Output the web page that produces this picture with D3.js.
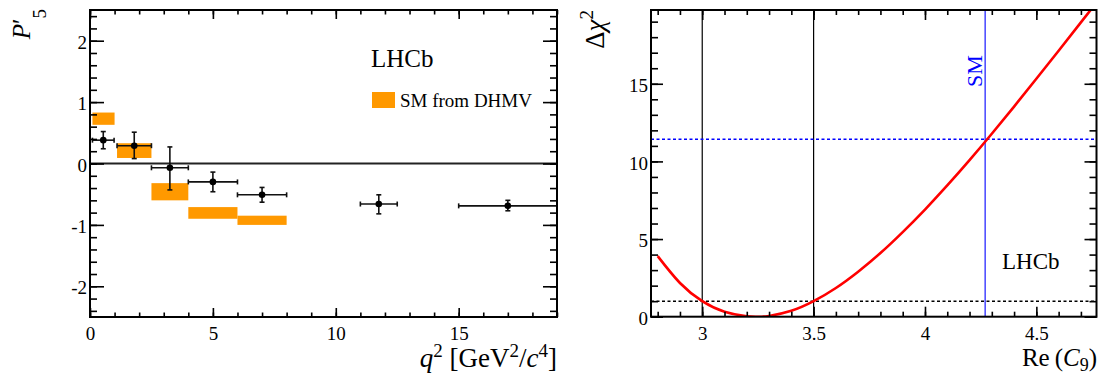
<!DOCTYPE html>
<html>
<head>
<meta charset="utf-8">
<script src="https://cdn.jsdelivr.net/npm/d3@7"></script>
<style>
  body { margin: 0; background: #fff; }
  svg { display: block; }
</style>
</head>
<body>
<svg id="chart" width="1101" height="379" font-family="'Liberation Serif', 'Times New Roman', serif"></svg>
<script>
// ---- P'5 measurement in q2 bins ----
const binLo   = [0.1, 1.1, 2.5, 4.0, 6.0, 11.0, 15.0];
const binHi   = [0.98, 2.5, 4.0, 6.0, 8.0, 12.5, 19.0];
const p5Val   = [0.38, 0.29, -0.07, -0.30, -0.51, -0.66, -0.69];
const p5ErrUp = [0.14, 0.22, 0.34, 0.16, 0.12, 0.15, 0.09];
const p5ErrDn = [0.14, 0.21, 0.36, 0.16, 0.12, 0.16, 0.08];

// ---- SM prediction bands (DHMV) ----
const smLo  = [0.1, 1.1, 2.5, 4.0, 6.0];
const smHi  = [1.0, 2.5, 4.0, 6.0, 8.0];
const smMin = [0.63, 0.09, -0.60, -0.90, -1.00];
const smMax = [0.83, 0.33, -0.32, -0.71, -0.85];

// ---- Delta chi2 scan versus Re(C9) ----
const c9Grid = [2.8, 2.9, 3.0, 3.1, 3.2, 3.25, 3.3, 3.4, 3.5, 3.6, 3.7, 3.8, 3.9, 4.0, 4.1, 4.2, 4.3, 4.4, 4.5, 4.6, 4.7, 4.8];
const chi2   = [3.9, 2.17, 1.0, 0.32, 0.03, 0.0, 0.05, 0.38, 1.0, 1.85, 2.9, 4.1, 5.45, 6.9, 8.45, 10.08, 11.78, 13.53, 15.32, 17.13, 18.95, 20.78];
const c9SM = 4.27;
const chi2AtSM = 11.42;
const c9Interval = [3.0, 3.5];
const oneSigma = 1;

// ---- tick labels ----
const leftXTicks  = [0, 5, 10, 15];
const leftXLabels = ["0", "5", "10", "15"];
const leftYTicks  = [-2, -1, 0, 1, 2];
const leftYLabels = ["-2", "-1", "0", "1", "2"];
const rightXTicks  = [3, 3.5, 4, 4.5];
const rightXLabels = ["3", "3.5", "4", "4.5"];
const rightYTicks  = [0, 5, 10, 15];
const rightYLabels = ["0", "5", "10", "15"];

const SERIF = "'Liberation Serif', 'Times New Roman', serif";
const svg = d3.select("#chart");
const ORANGE = "#ff9900";
const BLUE = "#0000ff";

function range(a, b, step) {
  const out = [];
  for (let i = 0; a + i * step <= b + 1e-9; i++) out.push(+(a + i * step).toFixed(4));
  return out;
}

// Draws inward ticks on all four sides of a frame, labels on bottom and left.
function drawFrameAxes(g, x, y, opt) {
  const [x0, x1] = x.range();
  const [y0, y1] = y.range(); // y0 bottom, y1 top

  const mk = (axisFn, scale, vals, size, labels, pad) => {
    const a = axisFn(scale).tickValues(vals).tickSizeInner(-size).tickSizeOuter(0).tickPadding(pad);
    a.tickFormat(labels ? (d, i) => labels[i] : () => "");
    return a;
  };
  const put = (cls, tr, axis) => g.append("g").attr("class", cls).attr("transform", tr).call(axis)
    .attr("font-family", SERIF).attr("font-size", opt.font);

  put("xt", `translate(0,${y0})`, mk(d3.axisBottom, x, opt.xMinor, opt.xMinorLen, null, 0));
  put("xlab", `translate(0,${y0})`, mk(d3.axisBottom, x, opt.xMajor, opt.xMajorLen, opt.xLabels, opt.xPad));
  put("xt", `translate(0,${y1})`, mk(d3.axisTop, x, opt.xMinor, opt.xMinorLen, null, 0));
  put("xt", `translate(0,${y1})`, mk(d3.axisTop, x, opt.xMajor, opt.xMajorLen, null, 0));
  put("yt", `translate(${x0},0)`, mk(d3.axisLeft, y, opt.yMinor, opt.yMinorLen, null, 0));
  put("ylab", `translate(${x0},0)`, mk(d3.axisLeft, y, opt.yMajor, opt.yMajorLen, opt.yLabels, opt.yPad));
  put("yt", `translate(${x1},0)`, mk(d3.axisRight, y, opt.yMinor, opt.yMinorLen, null, 0));
  put("yt", `translate(${x1},0)`, mk(d3.axisRight, y, opt.yMajor, opt.yMajorLen, null, 0));

  g.selectAll(".domain").remove();
  g.selectAll(".tick line").attr("stroke", "#000").attr("stroke-width", 1.6);
  g.selectAll(".tick text").attr("fill", "#000")
    .style("font-family", SERIF).style("font-size", opt.font + "px");
  g.selectAll(".xlab .tick text").attr("dy", "0.71em");
  g.selectAll(".ylab .tick text").attr("dy", "0.40em");

  g.append("rect")
    .attr("x", x0).attr("y", y1).attr("width", x1 - x0).attr("height", y0 - y1)
    .attr("fill", "none").attr("stroke", "#000").attr("stroke-width", 2);
}

// ================= Left panel: P'5 =================
const xL = d3.scaleLinear().domain([0, 19]).range([90, 557]);
const yL = d3.scaleLinear().domain([-2.5, 2.5]).range([317, 10]);
const gL = svg.append("g");

// SM bands
gL.append("g").selectAll("rect").data(smLo).join("rect")
  .attr("x", (d, i) => xL(smLo[i]))
  .attr("width", (d, i) => xL(smHi[i]) - xL(smLo[i]))
  .attr("y", (d, i) => yL(smMax[i]))
  .attr("height", (d, i) => yL(smMin[i]) - yL(smMax[i]))
  .attr("fill", ORANGE);

// zero line
gL.append("line")
  .attr("x1", xL(0)).attr("x2", xL(19)).attr("y1", yL(0)).attr("y2", yL(0))
  .attr("stroke", "#222").attr("stroke-width", 2);

// data points with error bars
const mid = i => (binLo[i] + binHi[i]) / 2;
const pts = gL.append("g").selectAll("g").data(p5Val).join("g");
const cap = 2.5;
pts.append("line")
  .attr("x1", (d, i) => xL(binLo[i])).attr("x2", (d, i) => xL(binHi[i]))
  .attr("y1", d => yL(d)).attr("y2", d => yL(d));
pts.append("line")
  .attr("x1", (d, i) => xL(mid(i))).attr("x2", (d, i) => xL(mid(i)))
  .attr("y1", (d, i) => yL(d + p5ErrUp[i])).attr("y2", (d, i) => yL(d - p5ErrDn[i]));
pts.append("line")
  .attr("x1", (d, i) => xL(binLo[i])).attr("x2", (d, i) => xL(binLo[i]))
  .attr("y1", d => yL(d) - cap).attr("y2", d => yL(d) + cap);
pts.append("line")
  .attr("x1", (d, i) => xL(binHi[i])).attr("x2", (d, i) => xL(binHi[i]))
  .attr("y1", d => yL(d) - cap).attr("y2", d => yL(d) + cap);
pts.append("line")
  .attr("x1", (d, i) => xL(mid(i)) - cap).attr("x2", (d, i) => xL(mid(i)) + cap)
  .attr("y1", (d, i) => yL(d + p5ErrUp[i])).attr("y2", (d, i) => yL(d + p5ErrUp[i]));
pts.append("line")
  .attr("x1", (d, i) => xL(mid(i)) - cap).attr("x2", (d, i) => xL(mid(i)) + cap)
  .attr("y1", (d, i) => yL(d - p5ErrDn[i])).attr("y2", (d, i) => yL(d - p5ErrDn[i]));
pts.selectAll("line").attr("stroke", "#111").attr("stroke-width", 1.6);
pts.append("circle")
  .attr("cx", (d, i) => xL(mid(i))).attr("cy", d => yL(d))
  .attr("r", 3.3).attr("fill", "#000");

drawFrameAxes(gL, xL, yL, {
  font: 19,
  xMajor: leftXTicks, xLabels: leftXLabels, xMinor: range(0, 19, 1),
  xMajorLen: 9, xMinorLen: 4.5, xPad: 10,
  yMajor: leftYTicks, yLabels: leftYLabels, yMinor: range(-2.4, 2.4, 0.2),
  yMajorLen: 14, yMinorLen: 7, yPad: 3
});

// LHCb label and legend
gL.append("text").attr("x", 371).attr("y", 67).attr("font-size", 25).text("LHCb");
gL.append("rect").attr("x", 372).attr("y", 92).attr("width", 23).attr("height", 16).attr("fill", ORANGE);
gL.append("text").attr("x", 400).attr("y", 106.5).attr("font-size", 19).text("SM from DHMV");

// axis titles
const xtL = gL.append("text").attr("x", 557).attr("y", 367).attr("text-anchor", "end").attr("font-size", 27);
xtL.append("tspan").attr("font-style", "italic").text("q");
xtL.append("tspan").attr("dy", -10).attr("font-size", 19).text("2");
xtL.append("tspan").attr("dy", 10).text(" [GeV");
xtL.append("tspan").attr("dy", -10).attr("font-size", 19).text("2");
xtL.append("tspan").attr("dy", 10).text("/");
xtL.append("tspan").attr("font-style", "italic").text("c");
xtL.append("tspan").attr("dy", -10).attr("font-size", 19).text("4");
xtL.append("tspan").attr("dy", 10).text("]");

const ytL = gL.append("text").attr("transform", "translate(30,9) rotate(-90)")
  .attr("text-anchor", "end").attr("font-size", 25);
ytL.append("tspan").attr("font-style", "italic").text("P");
ytL.append("tspan").text("\u2032");
ytL.append("tspan").attr("dy", 16).attr("font-size", 19).text("5");

// ================= Right panel: Delta chi2 =================
const xR = d3.scaleLinear().domain([2.77, 4.77]).range([651, 1096.5]);
const yR = d3.scaleLinear().domain([0, 19.75]).range([316.7, 10]);
const gR = svg.append("g");

svg.append("defs").append("clipPath").attr("id", "clipR")
  .append("rect").attr("x", 651).attr("y", 10).attr("width", 1096.5 - 651).attr("height", 316.7 - 10);

// interval boundaries
gR.append("g").selectAll("line").data(c9Interval).join("line")
  .attr("x1", d => xR(d)).attr("x2", d => xR(d)).attr("y1", yR(0)).attr("y2", yR(19.75))
  .attr("stroke", "#000").attr("stroke-width", 1.2);

// SM vertical line
gR.append("line").attr("x1", xR(c9SM)).attr("x2", xR(c9SM)).attr("y1", yR(0)).attr("y2", yR(19.75))
  .attr("stroke", BLUE).attr("stroke-width", 1.1);

// horizontal dashed references
gR.append("line").attr("x1", xR(2.77)).attr("x2", xR(4.77)).attr("y1", yR(oneSigma)).attr("y2", yR(oneSigma))
  .attr("stroke", "#000").attr("stroke-width", 1.5).attr("stroke-dasharray", "3,2.5");
gR.append("line").attr("x1", xR(2.77)).attr("x2", xR(4.77)).attr("y1", yR(chi2AtSM)).attr("y2", yR(chi2AtSM))
  .attr("stroke", BLUE).attr("stroke-width", 1.5).attr("stroke-dasharray", "3,2.5");

// chi2 curve
const curve = d3.line().x((d, i) => xR(c9Grid[i])).y(d => yR(d)).curve(d3.curveNatural);
gR.append("path").datum(chi2).attr("d", curve).attr("clip-path", "url(#clipR)")
  .attr("fill", "none").attr("stroke", "#ff0000").attr("stroke-width", 2.6);

drawFrameAxes(gR, xR, yR, {
  font: 19,
  xMajor: rightXTicks, xLabels: rightXLabels, xMinor: range(2.8, 4.7, 0.1),
  xMajorLen: 10, xMinorLen: 5, xPad: 10,
  yMajor: rightYTicks, yLabels: rightYLabels, yMinor: range(0, 19, 1),
  yMajorLen: 12, yMinorLen: 7, yPad: 3
});

// labels
gR.append("text").attr("x", 1002).attr("y", 269).attr("font-size", 23).text("LHCb");
gR.append("text").attr("transform", `translate(${xR(c9SM) - 3},87) rotate(-90)`)
  .attr("font-size", 22).attr("fill", BLUE).text("SM");

const xtR = gR.append("text").attr("x", 1097).attr("y", 366).attr("text-anchor", "end").attr("font-size", 25);
xtR.append("tspan").text("Re\u2009(");
xtR.append("tspan").attr("font-style", "italic").text("C");
xtR.append("tspan").attr("dy", 5).attr("font-size", 18).text("9");
xtR.append("tspan").attr("dy", -5).text(")");

const ytR = gR.append("text").attr("transform", "translate(604,10) rotate(-90)")
  .attr("text-anchor", "end").attr("font-size", 27);
ytR.append("tspan").text("\u0394");
ytR.append("tspan").attr("font-style", "italic").text("\u03c7");
ytR.append("tspan").attr("dy", -11).attr("font-size", 19).text("2");
</script>
</body>
</html>
